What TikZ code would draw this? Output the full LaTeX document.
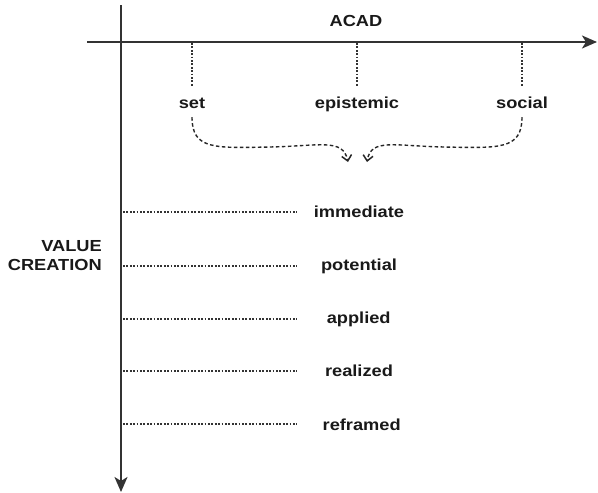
\documentclass[tikz,border=0pt]{standalone}
\usepackage{fontspec}
\setmainfont{Liberation Sans}[FakeStretch=1.14]
\usetikzlibrary{arrows.meta}
\begin{document}
\begin{tikzpicture}[x=1pt,y=-1pt,
  axis/.style={line width=1.8pt,draw=black!80,-{Stealth[length=15pt,width=13pt,inset=4pt]}},
  dotline/.style={line width=1.2pt,draw=black!80,dash pattern=on 1.8pt off 1.6pt},
  bracearrow/.style={line width=1.4pt,draw=black!85,dash pattern=on 3.5pt off 2.5pt,
    -{Straight Barb[length=5.5pt,width=10pt,line width=1.5pt]}},
  lbl/.style={font=\fontsize{16}{19}\selectfont\bfseries,text=black!90,inner sep=0pt,anchor=base},
  toplbl/.style={lbl,text height=12pt,text depth=0pt,inner xsep=0pt,inner ysep=9pt},
]
\useasboundingbox (0,0) rectangle (598,493);

% axes
\coordinate (hstart) at (87,42);
\coordinate (hend) at (597,42);
\coordinate (vstart) at (121,5);
\coordinate (vend) at (121,492);
\draw[axis] (hstart) -- (hend);
\draw[axis] (vstart) -- (vend);

% axis titles
\node[lbl] (acad) at (356,26.7) {ACAD};
\node[lbl,align=right,anchor=base east] (vc) at (102,270.7) {VALUE\\CREATION};

% ACAD dimensions
\node[toplbl] (set) at (192,108) {set};
\node[toplbl] (epi) at (357,108) {epistemic};
\node[toplbl] (soc) at (522,108) {social};
\coordinate (t1) at (192,43);
\coordinate (t2) at (357,43);
\coordinate (t3) at (522,43);
\draw[dotline] (t1) -- (set.north);
\draw[dotline] (t2) -- (epi.north);
\draw[dotline] (t3) -- (soc.north);

% converging brace arrows
\draw[bracearrow] (set.south) .. controls (192,150) and (215,148) .. (270,147)
  .. controls (320,146) and (343,138) .. (348,162);
\draw[bracearrow] (soc.south) .. controls (522,150) and (499,148) .. (444,147)
  .. controls (394,146) and (371,138) .. (367,162);

% value creation stages
\node[lbl] (imm) at (359,217.7) {immediate};
\node[lbl] (pot) at (359,270.7) {potential};
\node[lbl] (app) at (358.7,323.7) {applied};
\node[lbl] (rea) at (359,376.7) {realized};
\node[lbl] (ref) at (361.7,430) {reframed};
\coordinate (v1) at (123,212);
\coordinate (v2) at (123,266);
\coordinate (v3) at (123,319);
\coordinate (v4) at (123,371);
\coordinate (v5) at (123,424);
\foreach \v in {v1,v2,v3,v4,v5}
  \draw[dotline] (\v) -- ++(174,0);
\end{tikzpicture}
\end{document}
